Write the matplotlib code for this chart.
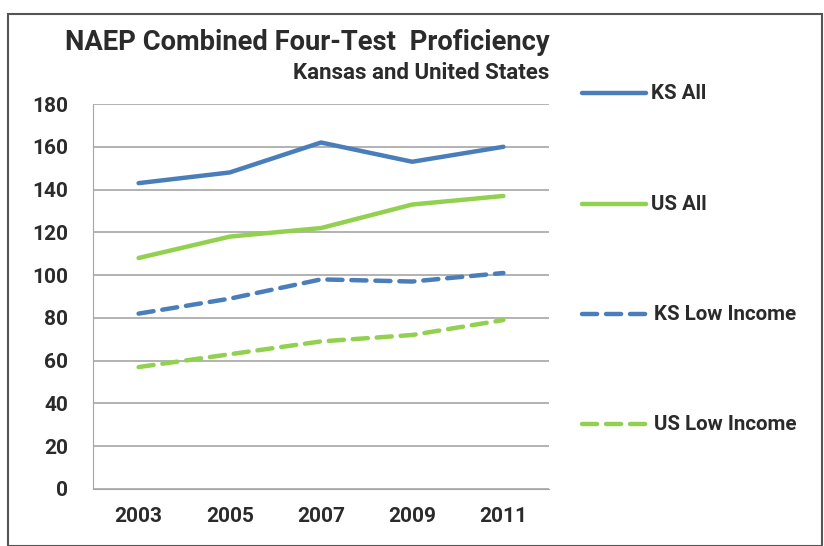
import matplotlib
matplotlib.use("Agg")
import matplotlib.pyplot as plt
from matplotlib.lines import Line2D
from matplotlib.patches import Rectangle

years = ["2003", "2005", "2007", "2009", "2011"]
ks_all = [143, 148, 162, 153, 160]
us_all = [108, 118, 122, 133, 137]
ks_low = [82, 89, 98, 97, 101]
us_low = [57, 63, 69, 72, 79]
labels = ["KS All", "US All", "KS Low Income", "US Low Income"]

plt.rcParams['font.family'] = ['Roboto', 'DejaVu Sans']
blue = "#4a7ebb"
green = "#92d050"
txt = "#2b2b2b"

fig = plt.figure(figsize=(8.24, 5.46), dpi=100)
ax = fig.add_axes([93/824, 1-489/546, (549-93)/824, (489-104)/546])

x = list(range(len(years)))
dash = (0, (3.4, 2.0))
series = [
    (ks_all, blue, '-'),
    (us_all, green, '-'),
    (ks_low, blue, dash),
    (us_low, green, dash),
]
for vals, c, ls in series:
    ax.plot(x, vals, color=c, lw=3.2, ls=ls, solid_capstyle='round', dash_capstyle='round')

ax.set_xlim(-0.5, len(years) - 0.5)
ax.set_ylim(0, 180)
ax.set_yticks(range(0, 181, 20))
ax.set_xticks(x)
ax.set_xticklabels(years)
ax.grid(axis='y', color='#a6a6a6', lw=1.2)
ax.set_axisbelow(True)
for s in ['top', 'right']:
    ax.spines[s].set_visible(False)
ax.spines['left'].set_color('#a6a6a6')
ax.spines['bottom'].set_color('#a6a6a6')
ax.tick_params(length=0, labelsize=15, colors=txt)
ax.tick_params(axis='y', pad=18)
ax.tick_params(axis='x', pad=13)
for t in ax.get_xticklabels() + ax.get_yticklabels():
    t.set_fontweight('bold')

fig.text(307.5/824, 1-42/546, "NAEP Combined Four-Test  Proficiency", ha='center', va='center',
         fontsize=19.7, fontweight='bold', color=txt)
fig.text(549/824, 1-73/546, "Kansas and United States", ha='right', va='center',
         fontsize=16, fontweight='bold', color=txt)

leg_y = [93, 204, 314, 424]
for (vals, c, ls), lab, yy in zip(series, labels, leg_y):
    yf = 1 - yy/546
    fig.add_artist(Line2D([582/824, 646/824], [yf, yf], color=c, lw=3.2, ls=ls,
                          solid_capstyle='round', dash_capstyle='round'))
    fig.text(651/824 if ls == '-' else 654/824, yf, lab, ha='left', va='center', fontsize=14.8,
             fontweight='bold', color=txt)

fig.add_artist(Rectangle((8/824, 0), 814/824, 1-14/546, transform=fig.transFigure,
                         fill=False, ec='#555555', lw=1.5))

fig.savefig("out.png", dpi=100)
